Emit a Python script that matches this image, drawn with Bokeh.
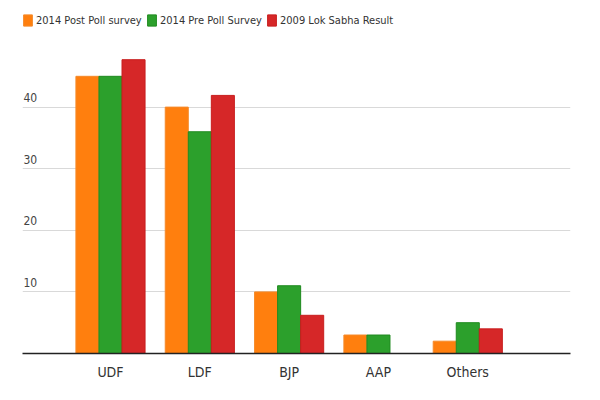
from bokeh.plotting import figure
from bokeh.models import (ColumnDataSource, Range1d, FixedTicker, Legend, LegendItem)
from bokeh.transform import dodge
from bokeh.core.properties import value
from bokeh.embed import file_html
from bokeh.resources import INLINE

categories = ["UDF", "LDF", "BJP", "AAP", "Others"]
post_poll_2014 = [45, 40, 10, 3, 2]
pre_poll_2014 = [45, 36, 11, 3, 5]
lok_sabha_2009 = [47.7, 41.9, 6.2, 0, 4]
series_names = ["2014 Post Poll survey", "2014 Pre Poll Survey", "2009 Lok Sabha Result"]
series_colors = ["#ff7f0e", "#2ca02c", "#d62728"]
line_colors = ["#f58a2a", "#1f8a1f", "#c81e1e"]
y_ticks = [10, 20, 30, 40]

FONT = "DejaVu Sans Condensed"

idx = list(range(len(categories)))
src = ColumnDataSource(dict(idx=idx, cat=categories, a=post_poll_2014,
                            b=pre_poll_2014, c=lok_sabha_2009))

p = figure(width=592, height=392, output_backend="svg", toolbar_location=None,
           x_range=Range1d(-0.985, 5.15), y_range=Range1d(0, 55.2),
           min_border_left=22, min_border_right=22, min_border_top=13,
           min_border_bottom=39)
p.outline_line_color = None
p.background_fill_color = "white"
p.border_fill_color = "white"

bw = 0.258
renderers = []
for key, off, col, lc in zip(["a", "b", "c"], [-bw, 0, bw], series_colors, line_colors):
    r = p.vbar(x=dodge("idx", off, range=p.x_range), top=key, width=bw, bottom=0,
               source=src, fill_color=col, line_color=lc, line_width=1)
    renderers.append(r)

# axes
p.yaxis.visible = False
p.xaxis.ticker = FixedTicker(ticks=idx)
p.xaxis.major_label_overrides = {i: c for i, c in zip(idx, categories)}
p.xaxis.major_tick_line_color = None
p.xaxis.minor_tick_line_color = None
p.xaxis.axis_line_color = "#222222"
p.xaxis.axis_line_width = 1.5
p.xaxis.major_label_text_font = FONT
p.xaxis.major_label_text_font_size = "14px"
p.xaxis.major_label_text_color = "#333333"
p.xaxis.major_label_standoff = 4

p.xgrid.visible = False
p.ygrid.ticker = FixedTicker(ticks=y_ticks)
p.ygrid.grid_line_color = "#d9d9d9"
p.ygrid.grid_line_width = 1

# y tick labels inside the plot, above gridlines
lab = ColumnDataSource(dict(x=[-0.985] * len(y_ticks), y=y_ticks,
                            t=[str(v) for v in y_ticks]))
p.text(x="x", y="y", text="t", source=lab, x_offset=1, y_offset=-5,
       text_font=value(FONT), text_font_size="12px", text_color="#444444",
       text_baseline="bottom", text_align="left")

# legends, one per series
legend_x = [0, 124, 244]
for name, r, lx in zip(series_names, renderers, legend_x):
    lg = Legend(items=[LegendItem(label=name, renderers=[r])],
                location=(lx, 326), orientation="horizontal",
                padding=0, margin=0, spacing=0,
                glyph_width=11, glyph_height=14, label_height=14,
                label_standoff=3, label_text_font=FONT,
                label_text_font_size="11px", label_text_color="#333333",
                border_line_color=None, background_fill_alpha=0)
    p.add_layout(lg, "center")

open("out.html", "w").write(file_html(p, INLINE))
